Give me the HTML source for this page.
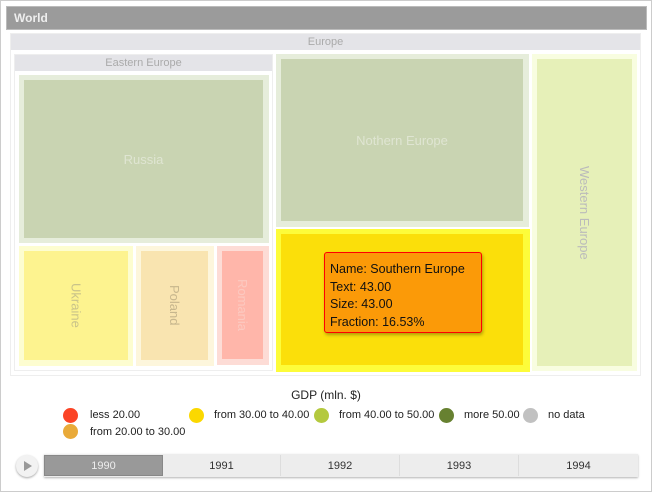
<!DOCTYPE html>
<html><head><style>
body{margin:0;width:652px;height:492px;background:#fff;font-family:"Liberation Sans",sans-serif;position:relative;overflow:hidden}
div{box-sizing:border-box}
.a{position:absolute}
.lbl{position:absolute;color:#bbb;font-size:13px;display:flex;align-items:center;justify-content:center}
.v{writing-mode:vertical-rl}
.dot{position:absolute;width:15px;height:15px;border-radius:50%}
.lt{position:absolute;font-size:11px;color:#222}
.yr{position:absolute;top:455px;height:21px;font-size:11px;color:#333;display:flex;align-items:center;justify-content:center;border-right:1px solid #ddd}
</style></head><body>
<div class="a" style="left:0;top:0;width:652px;height:492px;border:1px solid #ccc"></div>
<div class="a" style="left:6px;top:6px;width:641px;height:24px;background:#9b9b9b;border:1px solid #bbb;color:#eee;font-weight:bold;font-size:12px;padding:4px 7px">World</div>
<div class="a" style="left:10px;top:33px;width:631px;height:343px;border:1px solid #eee;background:#fff"></div>
<div class="a lbl" style="left:11px;top:34px;width:629px;height:16px;background:#e4e4e8;font-size:11px;color:#aaa">Europe</div>
<div class="a" style="left:14px;top:54px;width:259px;height:317px;border:1px solid #eee"></div>
<div class="a lbl" style="left:15px;top:55px;width:257px;height:16px;background:#e4e4e8;font-size:11px;color:#aaa">Eastern Europe</div>
<div class="a" style="left:19px;top:75px;width:250px;height:168px;background:#e6eddb"></div>
<div class="a lbl" style="left:24px;top:80px;width:239px;height:158px;background:#c9d4b2;color:#dfe5d2">Russia</div>
<div class="a" style="left:19px;top:246px;width:114px;height:120px;background:#fdfdd0"></div>
<div class="a lbl v" style="left:24px;top:251px;width:104px;height:109px;background:#fdf38f;color:#c9c38a">Ukraine</div>
<div class="a" style="left:136px;top:246px;width:78px;height:120px;background:#fdf6dc"></div>
<div class="a lbl v" style="left:141px;top:251px;width:67px;height:109px;background:#f9e4b0;color:#c7b68d">Poland</div>
<div class="a" style="left:217px;top:246px;width:52px;height:119px;background:#fddcd6"></div>
<div class="a lbl v" style="left:222px;top:251px;width:41px;height:108px;background:#ffb6aa;color:#fcc9c0">Romania</div>
<div class="a" style="left:276px;top:54px;width:253px;height:173px;background:#e6eddb"></div>
<div class="a lbl" style="left:281px;top:59px;width:242px;height:162px;background:#c9d4b2;color:#dfe5d2">Nothern Europe</div>
<div class="a" style="left:276px;top:229px;width:254px;height:143px;background:#fdfc3a"></div>
<div class="a lbl" style="left:281px;top:234px;width:242px;height:131px;background:#fbdf0a;color:#9a6a10">Southern Europe</div>
<div class="a" style="left:532px;top:54px;width:105px;height:317px;background:#f8fde0"></div>
<div class="a lbl v" style="left:537px;top:59px;width:95px;height:307px;background:#e6f0b8;color:#bbb">Western Europe</div>
<div class="a" style="left:324px;top:252px;width:158px;height:81px;background:#fb9a08;border:1px solid #f00;border-radius:3px;box-shadow:1px 2px 3px rgba(0,0,0,.3);font-size:12.5px;color:#111;padding:8px 5px;line-height:17.5px">Name: Southern Europe<br>Text: 43.00<br>Size: 43.00<br>Fraction: 16.53%</div>
<div class="a" style="left:0;top:388px;width:652px;text-align:center;font-size:12px;color:#222">GDP (mln. $)</div>
<div class="dot" style="left:63px;top:408px;background:#fb4426"></div><div class="lt" style="left:90px;top:409px">less 20.00</div>
<div class="dot" style="left:189px;top:408px;background:#fbd800"></div><div class="lt" style="left:214px;top:409px">from 30.00 to 40.00</div>
<div class="dot" style="left:314px;top:408px;background:#b4c93e"></div><div class="lt" style="left:339px;top:409px">from 40.00 to 50.00</div>
<div class="dot" style="left:439px;top:408px;background:#678131"></div><div class="lt" style="left:464px;top:409px">more 50.00</div>
<div class="dot" style="left:523px;top:408px;background:#c1c1c1"></div><div class="lt" style="left:548px;top:409px">no data</div>
<div class="dot" style="left:63px;top:424px;background:#e9aa39"></div><div class="lt" style="left:90px;top:426px">from 20.00 to 30.00</div>
<div class="a" style="left:16px;top:455px;width:22px;height:22px;border-radius:50%;background:#f2f2f2;box-shadow:0 1px 2px rgba(0,0,0,.35)"></div>
<div class="a" style="left:24px;top:461px;width:0;height:0;border-left:8px solid #999;border-top:5px solid transparent;border-bottom:5px solid transparent"></div>
<div class="a" style="left:44px;top:454px;width:594px;height:23px;background:#ededed;box-shadow:0 1px 2px rgba(0,0,0,.3)"></div>
<div class="yr" style="left:44px;width:119px;background:#999;color:#eee;border:1px solid #888">1990</div>
<div class="yr" style="left:163px;width:118px">1991</div>
<div class="yr" style="left:281px;width:119px">1992</div>
<div class="yr" style="left:400px;width:119px">1993</div>
<div class="yr" style="left:519px;width:119px;border:none">1994</div>
</body></html>
